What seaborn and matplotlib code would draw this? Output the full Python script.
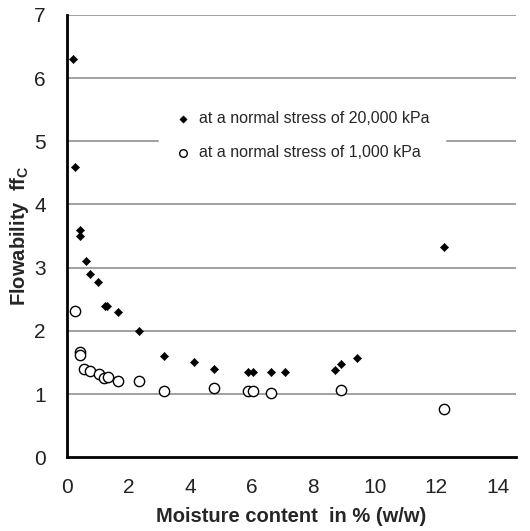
import numpy as np
import pandas as pd
import matplotlib
matplotlib.use("Agg")
import matplotlib.pyplot as plt
import seaborn as sns

# moisture content (% w/w) and flowability ffc
moist_high = [0.2, 0.27, 0.42, 0.42, 0.62, 0.74, 1.02, 1.24, 1.31, 1.68, 2.35, 3.16,
              4.13, 4.78, 5.9, 6.05, 6.63, 7.1, 8.7, 8.92, 9.42, 12.24]
ffc_high = [6.3, 4.6, 3.6, 3.5, 3.1, 2.9, 2.78, 2.4, 2.4, 2.3, 2.0, 1.6,
            1.5, 1.4, 1.35, 1.35, 1.35, 1.35, 1.38, 1.47, 1.57, 3.32]

moist_low = [0.26, 0.42, 0.42, 0.56, 0.75, 1.05, 1.21, 1.34, 1.67, 2.36, 3.16,
             4.78, 5.9, 6.05, 6.64, 8.92, 12.24]
ffc_low = [2.32, 1.67, 1.62, 1.4, 1.37, 1.32, 1.25, 1.27, 1.2, 1.2, 1.05,
           1.09, 1.05, 1.04, 1.01, 1.06, 0.76]

label_high = "at a normal stress of 20,000 kPa"
label_low = "at a normal stress of 1,000 kPa"

df = pd.concat([
    pd.DataFrame({"moist": moist_high, "ffc": ffc_high, "series": label_high}),
    pd.DataFrame({"moist": moist_low, "ffc": ffc_low, "series": label_low}),
])

sns.set_style("white")
plt.rcParams["font.family"] = ["Liberation Sans", "DejaVu Sans"]
plt.rcParams["mathtext.fontset"] = "custom"
plt.rcParams["mathtext.bf"] = "Liberation Sans:bold"
plt.rcParams["mathtext.rm"] = "Liberation Sans"

fig = plt.figure(figsize=(5.3, 5.31), dpi=100)
ax = fig.add_axes([0.126, 0.139, 0.848, 0.833])

# gridlines
for yv in range(1, 8):
    ax.axhline(yv, color="#a0a0a0", lw=1.4, zorder=0)

sns.scatterplot(data=df[df.series == label_high], x="moist", y="ffc", ax=ax,
                marker="D", s=18, color="black", edgecolor="black",
                label=label_high, zorder=3)
sns.scatterplot(data=df[df.series == label_low], x="moist", y="ffc", ax=ax,
                marker="o", s=55, facecolor="white", edgecolor="black",
                linewidth=1.0, label=label_low, zorder=3)

ax.set_xlim(0, 14.6)
ax.set_ylim(0, 7)
ax.set_xticks(range(0, 15, 2))
ax.set_yticks(range(0, 8))

for side in ["top", "right"]:
    ax.spines[side].set_visible(False)
for side in ["left", "bottom"]:
    ax.spines[side].set_linewidth(2)
    ax.spines[side].set_color("black")

ax.tick_params(axis="both", direction="inout", length=8, width=1.5,
               labelsize=15, colors="black", pad=11)
ax.tick_params(axis="both", labelcolor="#222222")

ax.set_xlabel("Moisture content  in % (w/w)", fontsize=14.5, fontweight="bold", labelpad=7)
ax.set_ylabel(r"Flowability  ff$_\mathbf{C}$", fontsize=14.5, fontweight="bold", labelpad=2)

leg = ax.legend(loc="center left", bbox_to_anchor=(0.205, 0.727), frameon=True,
                fontsize=11.5, handlelength=1.0, handletextpad=0.5, labelspacing=1.15,
                borderpad=1.0, borderaxespad=0, facecolor="white", edgecolor="white",
                framealpha=1.0, fancybox=False)
leg.set_zorder(2)
handles = leg.legend_handles
handles[0].set_sizes([14])
handles[1].set_sizes([30])

fig.savefig("out.png", dpi=100)
